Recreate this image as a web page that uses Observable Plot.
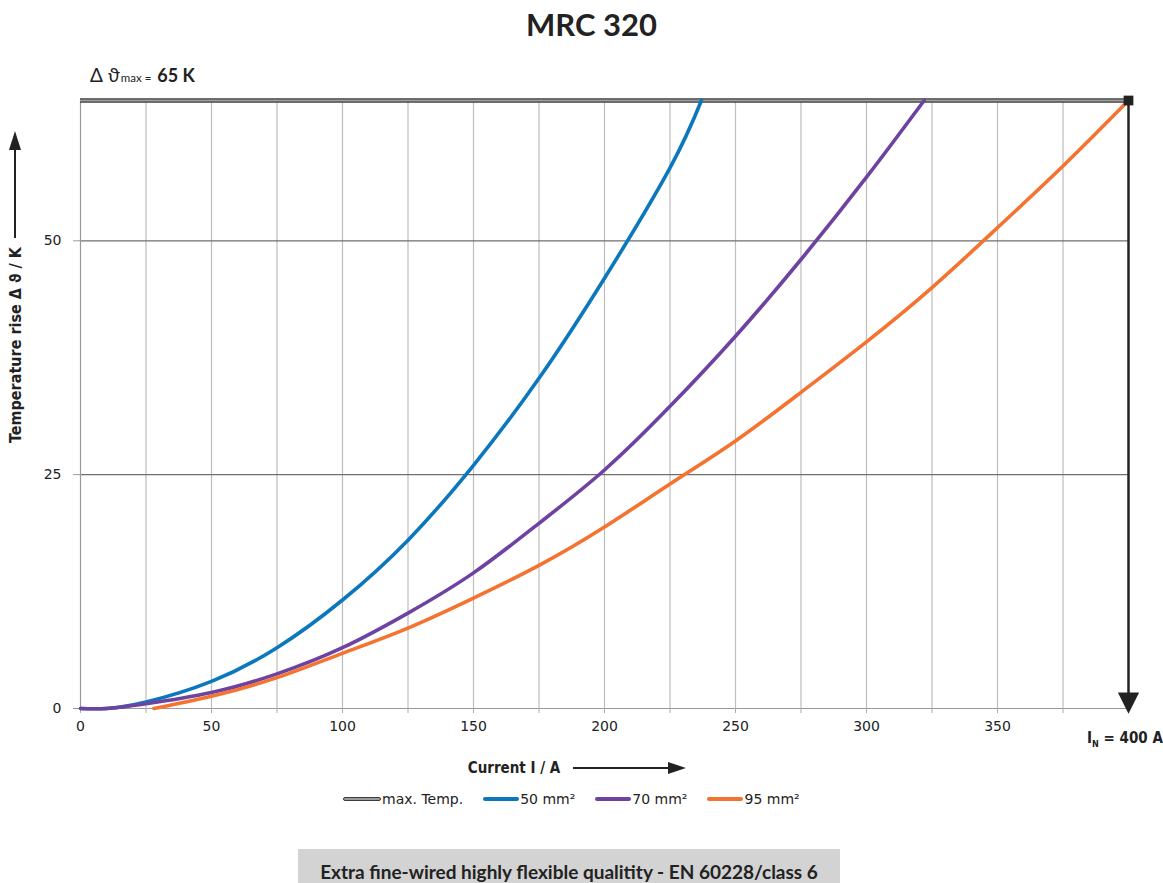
<!DOCTYPE html>
<html>
<head>
<meta charset="utf-8">
<script src="https://cdn.jsdelivr.net/npm/d3@7"></script>
<script src="https://cdn.jsdelivr.net/npm/@observablehq/plot@0.6"></script>
<style>
  html, body { margin: 0; padding: 0; background: #fff; }
  body { width: 1163px; height: 883px; position: relative; overflow: hidden; font-family: "DejaVu Sans", sans-serif; }
  #title { position: absolute; left: 10px; top: 5px; width: 1163px; text-align: center; font: bold 31px Lato, "Open Sans", sans-serif; color: #222; }
  #chart { position: absolute; left: 0; top: 60px; }
  #legend { position: absolute; left: 343px; top: 791px; display: flex; align-items: center; font: 14px "DejaVu Sans", sans-serif; color: #222; }
  .item { display: flex; align-items: center; margin-right: 20px; }
  .sw { width: 36px; height: 4px; border-radius: 2px; margin-right: 1px; }
  #footer { position: absolute; left: 298px; top: 849px; width: 542px; height: 40px; background: #d3d3d3; font: bold 19px Lato, sans-serif; color: #222; text-align: center; line-height: 46px; }
</style>
</head>
<body>
<div id="title">MRC 320</div>
<div id="chart"></div>
<div id="legend"></div>
<div id="footer">Extra fine-wired highly flexible qualitity - EN 60228/class 6</div>
<script>
// ---- data ----
const current50 = [0, 10, 25, 50, 75, 100, 125, 150, 175, 200, 225, 237];
const temp50    = [0, 0, 0.7, 2.9, 6.5, 11.6, 18, 26, 35.3, 46, 57.8, 65];
const current70 = [0, 10, 25, 50, 75, 100, 125, 150, 175, 200, 225, 250, 275, 300, 322];
const temp70    = [0, 0, 0.5, 1.7, 3.7, 6.5, 10.2, 14.5, 19.8, 25.5, 32.3, 39.8, 48, 56.8, 65];
const current95 = [28, 50, 75, 100, 125, 150, 175, 200, 225, 250, 275, 300, 325, 350, 375, 400];
const temp95    = [0, 1.3, 3.3, 5.9, 8.6, 11.8, 15.3, 19.4, 24, 28.6, 33.8, 39.2, 45, 51.4, 58, 65];
const seriesNames = ["50 mm²", "70 mm²", "95 mm²"];
const seriesColors = ["#0b77bd", "#6e42a1", "#f47330"];
const maxTemp = 65;
const ratedCurrent = 400;
const xTicks = [0, 25, 50, 75, 100, 125, 150, 175, 200, 225, 250, 275, 300, 325, 350, 375];
const xLabelTicks = [0, 50, 100, 150, 200, 250, 300, 350];
const yTicks = [0, 25, 50];

const rows = [];
[[current50, temp50], [current70, temp70], [current95, temp95]].forEach(([xs, ys], i) => {
  xs.forEach((x, j) => rows.push({ series: seriesNames[i], current: x, temp: ys[j] }));
});

const downTriangle = {
  draw(ctx, size) {
    const w = Math.sqrt(size) * 1.0;
    ctx.moveTo(-w, -w * 1.5);
    ctx.lineTo(w, -w * 1.5);
    ctx.lineTo(0, w * 0.5);
    ctx.closePath();
  }
};

const plot = Plot.plot({
  width: 1163,
  height: 720,
  marginLeft: 80,
  marginRight: 35,
  marginTop: 40,
  marginBottom: 72,
  style: { fontFamily: "DejaVu Sans, sans-serif", fontSize: "13px", color: "#222", background: "#fff", overflow: "visible" },
  x: { domain: [0, 400] },
  y: { domain: [0, maxTemp] },
  color: { domain: seriesNames, range: seriesColors },
  marks: [
    Plot.ruleX(xTicks.filter(d => d > 0), { y1: 0, y2: maxTemp, stroke: "#bdbdbd", strokeWidth: 1.2 }),
    Plot.ruleY(yTicks.filter(d => d > 0), { x1: 0, x2: ratedCurrent, stroke: "#6f6f6f", strokeWidth: 1.2 }),
    Plot.ruleY([0], { x1: 0, x2: ratedCurrent, stroke: "#999", strokeWidth: 1.2 }),
    Plot.ruleX([0], { y1: 0, y2: maxTemp, stroke: "#999", strokeWidth: 1.2 }),
    Plot.axisX(xTicks, { tickSize: 5, stroke: "#aaa", tickFormat: d => xLabelTicks.includes(d) ? d : "", tickPadding: 8, fontSize: 14, label: null }),
    Plot.axisY(yTicks, { tickSize: 7, stroke: "#999", tickPadding: 12, fontSize: 14, label: null }),
    Plot.ruleY([maxTemp], { x1: 0, x2: ratedCurrent, stroke: "#3c3c3c", strokeWidth: 4.5 }),
    Plot.ruleY([maxTemp], { x1: 0, x2: ratedCurrent, stroke: "#9c9c9c", strokeWidth: 2 }),
    Plot.line(rows, { x: "current", y: "temp", z: "series", stroke: "series", strokeWidth: 3.6, curve: "natural" }),
    Plot.ruleX([ratedCurrent], { y1: maxTemp, y2: 0, stroke: "#222", strokeWidth: 2.5 }),
    Plot.dot([ratedCurrent], { x: d => d, y: maxTemp, symbol: "square", r: 5.5, fill: "#222", stroke: "none" }),
    Plot.dot([ratedCurrent], { x: d => d, y: 0, symbol: downTriangle, r: 6, fill: "#222", stroke: "none" })
  ]
});

document.getElementById("chart").appendChild(plot);

// ---- annotations (text & decorative arrows) ----
const svg = d3.select(plot);
const sx = plot.scale("x"), sy = plot.scale("y");
const x0 = sx.apply(0), yTop = sy.apply(maxTemp), yBot = sy.apply(0);
const condensed = "'DejaVu Sans Condensed', 'Liberation Sans Narrow', 'DejaVu Sans', sans-serif";
function condText(sel, size) {
  return sel.style("font-family", condensed).style("font-stretch", "condensed")
    .style("font-weight", "bold").style("font-size", (size || 15) + "px").attr("fill", "#222");
}

// delta theta max label
const t1 = svg.append("text").attr("x", x0 + 10).attr("y", yTop - 18).attr("fill", "#222")
  .attr("text-anchor", "start")
  .style("font-family", "Lato, 'DejaVu Sans', sans-serif");
t1.append("tspan").attr("font-size", 19).text("Δ ϑ");
t1.append("tspan").attr("font-size", 11.5).attr("dx", 1).text("max =");
t1.append("tspan").attr("font-size", 18).attr("font-weight", "bold").attr("dx", 6).text("65 K");

// y label
condText(svg.append("text")
  .attr("transform", `translate(${21},${345 - 60}) rotate(-90)`)
  .attr("text-anchor", "middle"), 16)
  .text("Temperature rise Δ ϑ / K");
// y arrow
svg.append("line").attr("x1", 15).attr("x2", 15).attr("y1", 238 - 60).attr("y2", 148 - 60)
  .attr("stroke", "#222").attr("stroke-width", 2);
svg.append("path").attr("d", `M${15 - 6},${150 - 60} L${15 + 6},${150 - 60} L15,${131 - 60} Z`).attr("fill", "#222");

// x label
condText(svg.append("text").attr("x", 514).attr("y", 773 - 60).attr("text-anchor", "middle"), 15)
  .text("Current I / A");
svg.append("line").attr("x1", 573).attr("x2", 670).attr("y1", 768 - 60).attr("y2", 768 - 60)
  .attr("stroke", "#222").attr("stroke-width", 2);
svg.append("path").attr("d", `M668,${762 - 60} L668,${774 - 60} L686,${768 - 60} Z`).attr("fill", "#222");

// I_N label
const xr = sx.apply(ratedCurrent);
const t2 = condText(svg.append("text").attr("x", xr - 3).attr("y", yBot + 35).attr("text-anchor", "middle"), 15);
t2.append("tspan").text("I");
t2.append("tspan").attr("font-size", 9).attr("dy", 4).text("N");
t2.append("tspan").attr("dy", -4).text(" = 400 A");

// ---- legend ----
const legend = document.getElementById("legend");
const legendItems = [{ name: "max. Temp.", color: "#9c9c9c", border: "#3c3c3c" }]
  .concat(seriesNames.map((n, i) => ({ name: n, color: seriesColors[i] })));
legendItems.forEach(it => {
  const d = document.createElement("div");
  d.className = "item";
  const s = document.createElement("span");
  s.className = "sw";
  s.style.background = it.color;
  if (it.border) { s.style.border = "1.5px solid " + it.border; s.style.height = "2px"; }
  d.appendChild(s);
  const t = document.createElement("span");
  t.textContent = it.name;
  d.appendChild(t);
  legend.appendChild(d);
});
</script>
</body>
</html>
